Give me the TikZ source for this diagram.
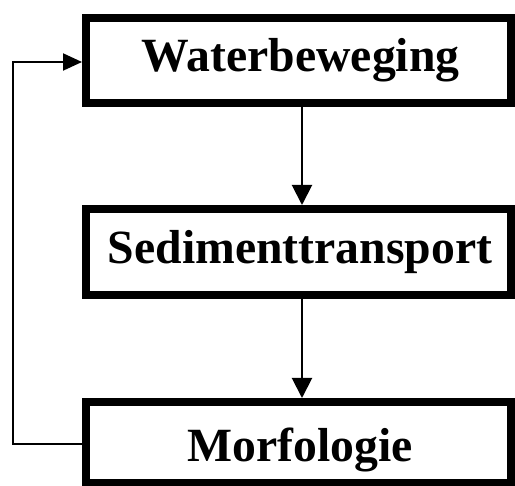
\documentclass[tikz,border=0pt]{standalone}
\usepackage{fontspec}
\setmainfont{Liberation Serif}
\usetikzlibrary{arrows.meta}
\begin{document}
\begin{tikzpicture}[x=1pt,y=-1pt,
  box/.style={draw=black, line width=8pt, rectangle, minimum width=425pt, inner sep=0pt,
    font=\fontsize{47.7}{50}\selectfont\bfseries, text height=34pt, text depth=11pt},
  flow/.style={draw=black, line width=2pt, -{Triangle[length=20pt,width=20pt]}},
  back/.style={draw=black, line width=2pt, -{Triangle[length=19pt,width=17pt]}}]
\useasboundingbox (0,0) rectangle (515,486);
\node[box, minimum height=85pt] (water) at (298.5,60.5) {\hspace{4pt}Waterbeweging};
\node[box, minimum height=86pt] (sed) at (298.5,252) {\hspace{3pt}Sedimenttransport};
\node[box, minimum height=81pt, text height=39pt, text depth=0pt] (morf) at (298.5,442.5) {\hspace{4pt}Morfologie};
\draw[flow] ([xshift=3.5pt]water.south) -- ([xshift=3.5pt]sed.north);
\draw[flow] ([xshift=3.5pt]sed.south) -- ([xshift=3.5pt]morf.north);
\draw[back] ([yshift=-2pt]morf.west) -- ++(-69pt,0) coordinate (corner) |- ([yshift=-1.5pt]water.west);
\end{tikzpicture}
\end{document}
